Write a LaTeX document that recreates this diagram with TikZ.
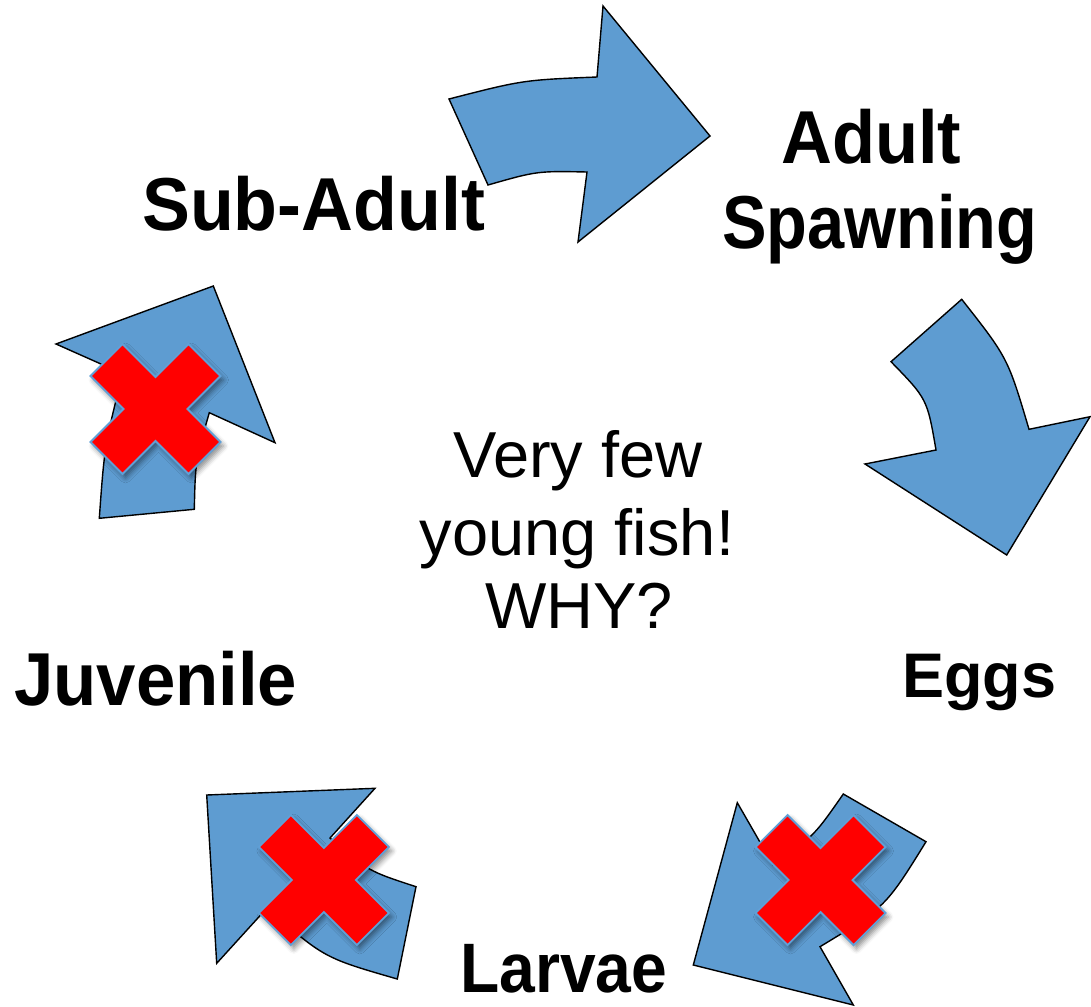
\documentclass[tikz,border=0pt]{standalone}
\usepackage{fontspec}
\setmainfont{Liberation Sans}
\usetikzlibrary{shadows.blur}
\definecolor{arrowblue}{RGB}{94,156,209}
\definecolor{crossred}{RGB}{255,0,0}
\definecolor{crossedge}{RGB}{96,160,215}
\tikzset{
  cyclearrow/.style={fill=arrowblue, draw=black, line width=1.4pt, line join=miter},
  crossmark/.style={fill=crossred, draw=crossedge, line width=1.8pt,
    blur shadow={shadow xshift=3pt, shadow yshift=-4pt, shadow blur radius=5pt, shadow opacity=45}},
  lbl/.style={anchor=base west, inner sep=0pt, font=\bfseries\fontsize{75}{80}\selectfont},
  note/.style={anchor=base, inner sep=0pt, font=\fontsize{65}{76}\selectfont},
  redcross/.pic={\path[crossmark] (-65,-33) -- (-33,-65) -- (0,-32) -- (33,-65) -- (65,-33) -- (32,0)
     -- (65,33) -- (33,65) -- (0,32) -- (-33,65) -- (-65,33) -- (-32,0) -- cycle;}
}
\begin{document}
\begin{tikzpicture}[x=1pt,y=-1pt]
\useasboundingbox (0,0) rectangle (1091,1006);

% arrow: Sub-Adult -> Adult Spawning
\path[cyclearrow] (488,185) -- (449,99) .. controls (523,80) .. (597,77) -- (603,6) -- (710,136)
  -- (578,242) -- (587,172) .. controls (537,171) .. (488,185) -- cycle;
% arrow: Adult Spawning -> Eggs
\path[cyclearrow] (961.7,299.3) -- (891,361.7) .. controls (927.2,398.9) .. (936,450) -- (865,464)
  -- (1006.7,555) -- (1090,416.7) -- (1029,429.3) .. controls (1007.8,357.9) .. (961.7,299.3) -- cycle;
% arrow: Eggs -> Larvae
\path[cyclearrow] (843.3,794) -- (926,841.7) .. controls (885.6,907) .. (820,946.7) -- (853.3,1005)
  -- (693.3,965) -- (737.3,802.7) -- (773.2,865.1) .. controls (814.3,835.6) .. (843.3,794) -- cycle;
% arrow: Larvae -> Juvenile
\path[cyclearrow] (206.7,795) -- (375,788.3) -- (330,838) .. controls (368.1,871) .. (416,886.7)
  -- (397.3,979) .. controls (324.1,957.9) .. (267,908) -- (216.7,963.3) -- cycle;
% arrow: Juvenile -> Sub-Adult
\path[cyclearrow] (99.3,518.3) -- (194.3,509.3) .. controls (195.4,461) .. (209.3,412.7) -- (275,442.7)
  -- (213.3,286) -- (56,344) -- (122.7,373.7) .. controls (104.5,446) .. (99.3,518.3) -- cycle;

% crosses
\pic at (155.5,409) {redcross};
\pic at (323.8,880) {redcross};
\pic at (820.5,880) {redcross};

% labels
\node[lbl] (subadult) at (142,230) {\scalebox{0.957}[1]{Sub-Adult}};
\node[lbl] (adult) at (781,163) {\scalebox{0.94}[1]{Adult}};
\node[lbl] (spawning) at (722,248) {\scalebox{0.89}[1]{Spawning}};
\node[lbl, font=\bfseries\fontsize{63}{68}\selectfont] (eggs) at (902,697) {Eggs};
\node[lbl] (juvenile) at (14,705) {\scalebox{0.943}[1]{Juvenile}};
\node[lbl, font=\bfseries\fontsize{70}{75}\selectfont] (larvae) at (460,992) {\scalebox{0.917}[1]{Larvae}};

% centre note
\node[note] (note1) at (578,477) {Very few};
\node[note] (note2) at (577,555) {young fish!};
\node[note] (note3) at (579,628) {WHY?};
\end{tikzpicture}
\end{document}
